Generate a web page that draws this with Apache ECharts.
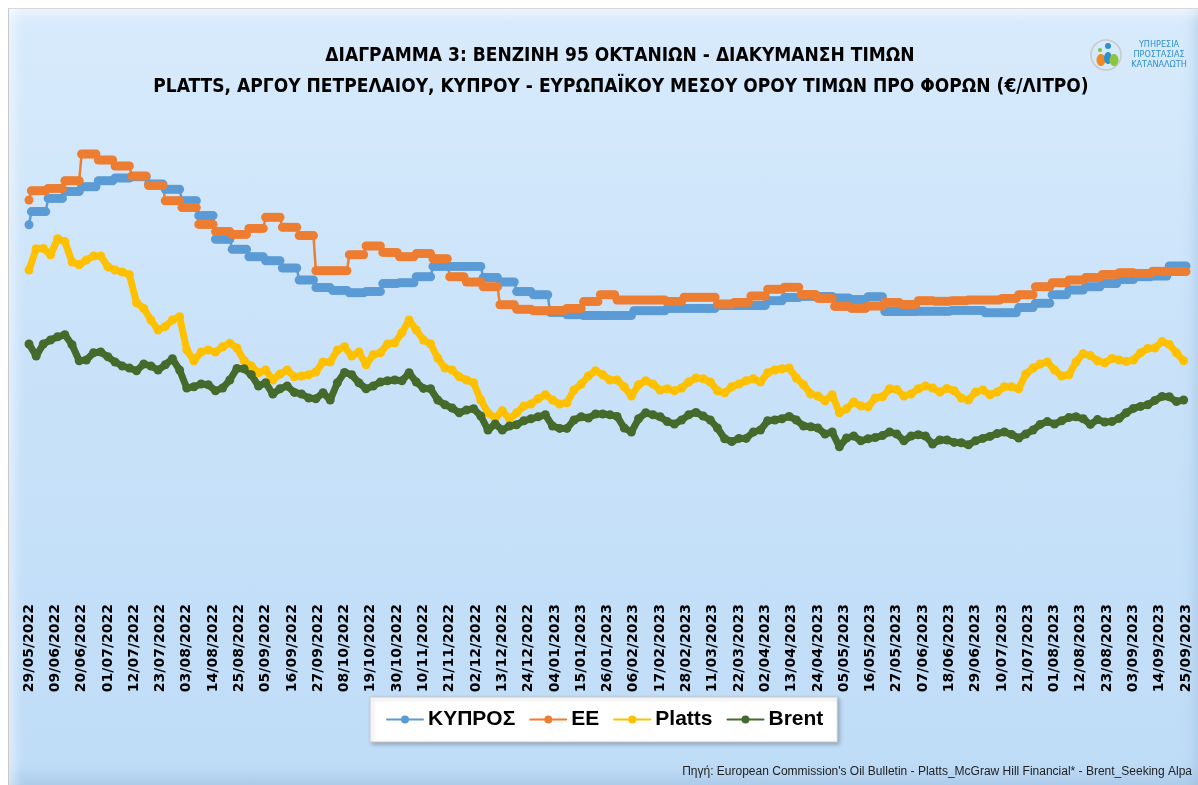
<!DOCTYPE html>
<html>
<head>
<meta charset="utf-8">
<title>Βενζίνη 95 οκτανίων - διακύμανση τιμών</title>
<script src="https://cdn.jsdelivr.net/npm/echarts@6/dist/echarts.min.js"></script>
<style>
  html, body { margin: 0; padding: 0; background: #ffffff; }
  #frame {
    position: absolute; left: 8px; top: 8px; width: 1190px; height: 777px;
    box-sizing: border-box; border-left: 1px solid #c8c8c8; border-top: 1px solid #d8d8d8;
    background: linear-gradient(180deg, #d8ebfc 0%, #c9e2f9 45%, #bfdcf7 100%);
    box-shadow: inset 0 16px 12px -10px rgba(255,255,255,0.55),
                inset 16px 0 12px -10px rgba(255,255,255,0.5),
                inset 0 -22px 14px -12px rgba(140,175,210,0.35),
                inset -14px 0 12px -10px rgba(140,175,210,0.35);
  }
  #chart { position: absolute; left: 0; top: 0; width: 1198px; height: 785px; }
</style>
</head>
<body>
<div id="frame"></div>
<div id="chart"></div>
<script>
// Βενζίνη 95 - τιμές προ φόρων (€/λίτρο)
var startDate = Date.UTC(2022, 4, 29);   // 29/05/2022
var dayCount = 485;                       // έως 25/09/2023

// εβδομαδιαίες τιμές (Δευτέρα), η πρώτη τιμή είναι για 29/05/2022
var cyprusWeekly = [0.938, 0.971, 1.004, 1.021, 1.033, 1.048, 1.055, 1.058, 1.040, 1.027,
  0.998, 0.961, 0.902, 0.877, 0.858, 0.848, 0.830, 0.800, 0.781, 0.774,
  0.768, 0.771, 0.791, 0.793, 0.808, 0.834, 0.834, 0.834, 0.806, 0.795,
  0.771, 0.763, 0.719, 0.713, 0.711, 0.711, 0.711, 0.723, 0.723, 0.729,
  0.729, 0.729, 0.736, 0.736, 0.736, 0.748, 0.756, 0.759, 0.759, 0.755,
  0.751, 0.758, 0.721, 0.721, 0.722, 0.722, 0.724, 0.724, 0.718, 0.718,
  0.731, 0.742, 0.763, 0.775, 0.783, 0.791, 0.801, 0.808, 0.810, 0.835,
  0.835];

var euWeekly = [1.000, 1.023, 1.029, 1.048, 1.115, 1.100, 1.085, 1.060, 1.036, 0.998,
  0.981, 0.939, 0.921, 0.914, 0.929, 0.957, 0.932, 0.911, 0.823, 0.823,
  0.863, 0.885, 0.869, 0.858, 0.866, 0.853, 0.808, 0.795, 0.783, 0.738,
  0.727, 0.723, 0.724, 0.729, 0.746, 0.763, 0.750, 0.750, 0.750, 0.746,
  0.757, 0.757, 0.740, 0.744, 0.760, 0.777, 0.782, 0.764, 0.754, 0.734,
  0.729, 0.735, 0.744, 0.739, 0.748, 0.747, 0.748, 0.750, 0.750, 0.754,
  0.763, 0.783, 0.793, 0.800, 0.806, 0.814, 0.818, 0.816, 0.822, 0.821,
  0.821];

// ημερήσιες τιμές, ανά 3 ημέρες από 29/05/2022
var platts3d = [0.825, 0.878, 0.879, 0.863, 0.903, 0.896, 0.845, 0.838, 0.850, 0.860,
  0.860, 0.833, 0.825, 0.820, 0.813, 0.743, 0.729, 0.700, 0.675, 0.684,
  0.700, 0.708, 0.625, 0.598, 0.620, 0.625, 0.620, 0.633, 0.642, 0.630,
  0.598, 0.585, 0.568, 0.575, 0.550, 0.565, 0.575, 0.558, 0.560, 0.563,
  0.570, 0.595, 0.595, 0.625, 0.633, 0.610, 0.620, 0.588, 0.613, 0.618,
  0.640, 0.643, 0.668, 0.700, 0.675, 0.650, 0.640, 0.605, 0.580, 0.575,
  0.558, 0.550, 0.543, 0.500, 0.468, 0.455, 0.473, 0.453, 0.468, 0.485,
  0.490, 0.503, 0.513, 0.500, 0.490, 0.493, 0.525, 0.540, 0.560, 0.573,
  0.563, 0.550, 0.550, 0.533, 0.510, 0.538, 0.548, 0.540, 0.525, 0.528,
  0.523, 0.530, 0.545, 0.555, 0.553, 0.545, 0.523, 0.518, 0.533, 0.540,
  0.548, 0.553, 0.545, 0.568, 0.575, 0.578, 0.580, 0.555, 0.538, 0.515,
  0.510, 0.498, 0.513, 0.468, 0.478, 0.495, 0.485, 0.483, 0.505, 0.508,
  0.528, 0.526, 0.510, 0.515, 0.528, 0.535, 0.530, 0.520, 0.529, 0.523,
  0.505, 0.500, 0.520, 0.525, 0.513, 0.520, 0.533, 0.533, 0.528, 0.565,
  0.580, 0.590, 0.595, 0.575, 0.560, 0.563, 0.595, 0.616, 0.611, 0.598,
  0.593, 0.604, 0.600, 0.596, 0.600, 0.618, 0.629, 0.630, 0.646, 0.639,
  0.618, 0.598];

var brent3d = [0.640, 0.610, 0.640, 0.650, 0.658, 0.663, 0.638, 0.598, 0.600, 0.618,
  0.620, 0.608, 0.595, 0.585, 0.580, 0.573, 0.590, 0.585, 0.575, 0.588,
  0.603, 0.575, 0.530, 0.533, 0.540, 0.538, 0.523, 0.530, 0.550, 0.579,
  0.578, 0.563, 0.535, 0.543, 0.515, 0.528, 0.535, 0.519, 0.515, 0.505,
  0.503, 0.518, 0.500, 0.543, 0.569, 0.563, 0.543, 0.528, 0.535, 0.545,
  0.548, 0.550, 0.548, 0.568, 0.545, 0.529, 0.528, 0.500, 0.488, 0.480,
  0.468, 0.475, 0.478, 0.460, 0.425, 0.440, 0.425, 0.435, 0.438, 0.448,
  0.453, 0.458, 0.463, 0.435, 0.429, 0.429, 0.450, 0.458, 0.455, 0.465,
  0.465, 0.463, 0.459, 0.430, 0.420, 0.453, 0.468, 0.463, 0.458, 0.446,
  0.440, 0.450, 0.463, 0.469, 0.460, 0.450, 0.430, 0.403, 0.396, 0.404,
  0.404, 0.420, 0.425, 0.448, 0.450, 0.453, 0.459, 0.450, 0.435, 0.433,
  0.430, 0.415, 0.420, 0.383, 0.405, 0.410, 0.398, 0.403, 0.406, 0.411,
  0.420, 0.415, 0.398, 0.410, 0.413, 0.410, 0.390, 0.400, 0.400, 0.394,
  0.393, 0.388, 0.398, 0.404, 0.409, 0.416, 0.420, 0.414, 0.405, 0.415,
  0.425, 0.439, 0.446, 0.440, 0.448, 0.456, 0.458, 0.453, 0.439, 0.451,
  0.445, 0.446, 0.454, 0.468, 0.479, 0.484, 0.488, 0.499, 0.509, 0.508,
  0.496, 0.500];

var seriesNames = ['ΚΥΠΡΟΣ', 'EE', 'Platts', 'Brent'];
var seriesColors = ['#5b9bd5', '#ed7d31', '#ffc000', '#456a2b'];

function pad(n) { return n < 10 ? '0' + n : '' + n; }
var dates = [];
for (var i = 0; i < dayCount; i++) {
  var d = new Date(startDate + i * 86400000);
  dates.push(pad(d.getUTCDate()) + '/' + pad(d.getUTCMonth() + 1) + '/' + d.getUTCFullYear());
}

// εβδομαδιαία τιμή για κάθε ημέρα του άξονα
function dailyFromWeekly(weekly) {
  return dates.map(function (d, i) { return weekly[i === 0 ? 0 : Math.ceil(i / 7)]; });
}
function pairsEvery3(values) {
  return values.map(function (v, i) { return [i * 3, v]; });
}

function lineSeries(idx, data, width) {
  return {
    name: seriesNames[idx],
    type: 'line',
    data: data,
    symbol: 'circle',
    symbolSize: 9,
    showAllSymbol: true,
    lineStyle: { width: width, color: seriesColors[idx], cap: 'round', join: 'round' },
    itemStyle: { color: seriesColors[idx] },
    emphasis: { disabled: true }
  };
}

var titleFont = 'bold 19px "DejaVu Sans Condensed", "DejaVu Sans", sans-serif';

var chart = echarts.init(document.getElementById('chart'), null, { renderer: 'canvas' });

var option = {
  backgroundColor: 'transparent',
  animation: false,
  grid: { left: 29, right: 12, top: 100, bottom: 185, containLabel: false, outerBoundsMode: 'none' },
  xAxis: {
    type: 'category',
    data: dates,
    boundaryGap: false,
    axisLine: { show: false },
    axisTick: { show: false },
    splitLine: { show: false },
    axisLabel: {
      interval: 10,
      rotate: 90,
      margin: 4,
      color: '#000000',
      fontWeight: 'bold',
      fontSize: 14,
      fontFamily: 'DejaVu Sans'
    }
  },
  yAxis: {
    type: 'value',
    min: 0,
    max: 1.25,
    show: false,
    splitLine: { show: false }
  },
  legend: {
    data: seriesNames,
    left: 370,
    top: 697,
    padding: [12, 14, 12, 16],
    itemGap: 14,
    itemWidth: 36,
    itemHeight: 10,
    backgroundColor: '#ffffff',
    borderColor: '#c8c8c8',
    borderWidth: 1,
    shadowColor: 'rgba(0,0,0,0.25)',
    shadowBlur: 4,
    shadowOffsetX: 2,
    shadowOffsetY: 2,
    selectedMode: false,
    textStyle: { color: '#000000', fontWeight: 'bold', fontSize: 21, fontFamily: 'Liberation Sans' }
  },
  graphic: [
    {
      type: 'text',
      style: {
        text: 'ΔΙΑΓΡΑΜΜΑ 3: ΒΕΝΖΙΝΗ 95 ΟΚΤΑΝΙΩΝ - ΔΙΑΚΥΜΑΝΣΗ ΤΙΜΩΝ',
        x: 620, y: 56, textAlign: 'center', textVerticalAlign: 'middle',
        fill: '#000000', font: titleFont
      }
    },
    {
      type: 'text',
      style: {
        text: 'PLATTS, ΑΡΓΟΥ ΠΕΤΡΕΛΑΙΟΥ, ΚΥΠΡΟΥ - ΕΥΡΩΠΑΪΚΟΥ ΜΕΣΟΥ ΟΡΟΥ ΤΙΜΩΝ ΠΡΟ ΦΟΡΩΝ (€/ΛΙΤΡΟ)',
        x: 621, y: 87, textAlign: 'center', textVerticalAlign: 'middle',
        fill: '#000000', font: titleFont
      }
    },
    {
      type: 'text',
      style: {
        text: "Πηγή: European Commission's Oil Bulletin - Platts_McGraw Hill Financial* - Brent_Seeking Alpa",
        x: 1192, y: 772, textAlign: 'right', textVerticalAlign: 'middle',
        fill: '#222222', font: '12px "Liberation Sans", sans-serif'
      }
    },
    // λογότυπο Υπηρεσίας Προστασίας Καταναλωτή
    { type: 'circle', shape: { cx: 1106, cy: 55, r: 15 }, style: { fill: 'none', stroke: '#c9c9c9', lineWidth: 1.5 } },
    { type: 'circle', shape: { cx: 1108, cy: 46, r: 3 }, style: { fill: '#2f8fd0' } },
    { type: 'circle', shape: { cx: 1100, cy: 50, r: 2 }, style: { fill: '#7fbf3f' } },
    { type: 'ellipse', shape: { cx: 1101, cy: 60, rx: 4.5, ry: 6 }, style: { fill: '#f08a24' } },
    { type: 'ellipse', shape: { cx: 1108, cy: 58, rx: 4, ry: 6 }, style: { fill: '#2f8fd0' } },
    { type: 'ellipse', shape: { cx: 1114, cy: 60, rx: 4.5, ry: 6 }, style: { fill: '#8cc63f' } },
    {
      type: 'text',
      style: {
        text: 'ΥΠΗΡΕΣΙΑ\nΠΡΟΣΤΑΣΙΑΣ\nΚΑΤΑΝΑΛΩΤΗ', x: 1159, y: 40, textAlign: 'center',
        lineHeight: 10, fill: '#2f8fd0', font: '9px "DejaVu Sans Condensed", sans-serif'
      }
    }
  ],
  series: [
    lineSeries(0, dailyFromWeekly(cyprusWeekly), 2.5),
    lineSeries(1, dailyFromWeekly(euWeekly), 2.5),
    lineSeries(2, pairsEvery3(platts3d), 7),
    lineSeries(3, pairsEvery3(brent3d), 7)
  ]
};

chart.setOption(option);
</script>
</body>
</html>
